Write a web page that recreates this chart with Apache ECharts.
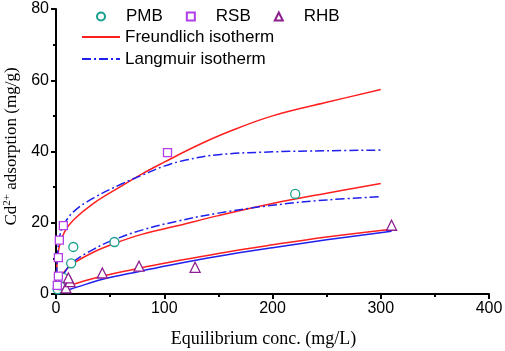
<!DOCTYPE html>
<html>
<head>
<meta charset="utf-8">
<script src="https://cdn.jsdelivr.net/npm/echarts@6/dist/echarts.min.js"></script>
<style>
  html, body { margin: 0; padding: 0; background: #fff; }
  #chart { width: 505px; height: 351px; }
</style>
</head>
<body>
<div id="chart"></div>
<script>
// measured points [conc, adsorption]
var pmbPts = [[1.5,1.3],[3.7,2.4],[6.8,4.5],[14,8.6],[16,13.2],[54,14.6],[221,28.1]];
var rsbPts = [[1.2,2.4],[2.2,5.0],[2.2,10.2],[3.1,15.1],[6.8,19.2],[103,39.7]];
var rhbPts = [[9.2,1.7],[13,3.5],[11.4,4.5],[42.8,5.9],[76.7,7.8],[128.5,7.5],[310,19.3]];

// fitted curves
var rsbFreundlich = [[0.5,6],[2.8,13],[8,17.5],[16.6,20.9],[35,25.5],[60,30.2],[80,33.8],[100,37],[130,41.6],[160,45.6],[200,50],[250,53.8],[300,57.4]];
var rsbLangmuir = [[0.5,5],[1.5,11],[3,15.5],[6.8,19.2],[16.6,23.2],[35,27],[60,30.8],[80,33.4],[100,35.9],[120,37.6],[150,39.1],[200,39.9],[250,40.2],[300,40.4]];
var pmbFreundlich = [[0.5,2],[3,4],[7,6],[15,8.4],[35,11.8],[55,14.3],[80,16.8],[110,19],[150,22],[200,25.4],[250,28.3],[300,31]];
var pmbLangmuir = [[0.5,1],[3,3],[7,5.5],[15,8.8],[35,12.6],[55,15.4],[80,18],[110,20.3],[150,22.7],[200,24.9],[250,26.4],[300,27.3]];
var rhbFreundlich = [[0.5,0.3],[7,1.7],[20,3.1],[44,5.1],[78,7.3],[105,8.9],[150,11.4],[200,13.8],[250,16],[310,18.2]];
var rhbLangmuir = [[0.5,0.1],[5,0.5],[20,2],[44,4.2],[78,6.4],[105,8.1],[150,10.6],[200,13],[250,15.2],[310,17.6]];

var red = '#ff1f1f';
var blue = '#1f1fee';
var dashDot = [9, 3, 2, 3];

function fitLine(name, data, color, type) {
  return {
    name: name, type: 'line', data: data, symbol: 'none',
    smooth: 0.4,
    lineStyle: { color: color, width: 1.5, type: type },
    itemStyle: { color: color },
    z: 2
  };
}
function pts(name, data, symbol, size, color) {
  return {
    name: name, type: 'scatter', data: data, symbol: symbol, symbolSize: size,
    itemStyle: { color: '#fff', borderColor: color, borderWidth: 1.3, opacity: 1 },
    z: 5
  };
}

var myChart = echarts.init(document.getElementById('chart'));
var option = {
  animation: false,
  textStyle: { fontFamily: 'Liberation Sans' },
  legend: [
    {
      data: ['PMB', 'RSB', 'RHB'],
      left: 96, top: 8, padding: 0,
      itemWidth: 8, itemHeight: 8, itemGap: 23,
      textStyle: { fontSize: 17, color: '#000', fontFamily: 'Liberation Sans', padding: [0, 0, 0, 16] }
    },
    {
      data: ['Freundlich isotherm', 'Langmuir isotherm'],
      orient: 'vertical',
      left: 81, top: 28, padding: 0,
      itemWidth: 38, itemHeight: 14, itemGap: 4,
      itemStyle: { opacity: 0 },
      textStyle: { fontSize: 17, lineHeight: 18, color: '#000', fontFamily: 'Liberation Sans' }
    }
  ],
  grid: { left: 56, right: 16, top: 9, bottom: 57, outerBoundsMode: 'none', containLabel: false },
  xAxis: {
    type: 'value', min: 0, max: 400, interval: 100,
    name: 'Equilibrium conc. (mg/L)', nameLocation: 'middle', nameGap: 36,
    nameTextStyle: { fontFamily: 'Liberation Serif', fontSize: 18, color: '#000', padding: [0, 18, 0, 0] },
    axisLine: { lineStyle: { color: '#000', width: 2 } },
    axisTick: { show: true, length: 5, lineStyle: { color: '#000', width: 2 } },
    minorTick: { show: true, splitNumber: 2, length: 3, lineStyle: { color: '#000', width: 2 } },
    axisLabel: { fontSize: 16, color: '#000', margin: 7 },
    splitLine: { show: false }
  },
  yAxis: {
    type: 'value', min: 0, max: 80, interval: 20,
    name: '{a|Cd}{s|2+}{a| adsorption (mg/g)}', nameLocation: 'middle', nameGap: 35,
    nameTextStyle: {
      color: '#000', padding: [0, 0, 0, 10],
      rich: {
        a: { fontFamily: 'Liberation Serif', fontSize: 17, color: '#000' },
        s: { fontFamily: 'Liberation Serif', fontSize: 11, color: '#000', verticalAlign: 'top', padding: [0, 0, 8, 0] }
      }
    },
    axisLine: { show: true, lineStyle: { color: '#000', width: 2 } },
    axisTick: { show: true, length: 5, lineStyle: { color: '#000', width: 2 } },
    minorTick: { show: true, splitNumber: 2, length: 3, lineStyle: { color: '#000', width: 2 } },
    axisLabel: { fontSize: 16, color: '#000', margin: 7 },
    splitLine: { show: false }
  },
  series: [
    fitLine('Freundlich isotherm', rsbFreundlich, red, 'solid'),
    fitLine('Langmuir isotherm', rsbLangmuir, blue, dashDot),
    fitLine('Freundlich isotherm', pmbFreundlich, red, 'solid'),
    fitLine('Langmuir isotherm', pmbLangmuir, blue, dashDot),
    fitLine('Freundlich isotherm', rhbFreundlich, red, 'solid'),
    fitLine('Langmuir isotherm', rhbLangmuir, blue, 'solid'),
    pts('PMB', pmbPts, 'circle', 9, '#14a08c'),
    pts('RSB', rsbPts, 'rect', 8, '#b13ee8'),
    pts('RHB', rhbPts, 'triangle', 10, '#8e1f8e')
  ]
};
myChart.setOption(option);
</script>
</body>
</html>
